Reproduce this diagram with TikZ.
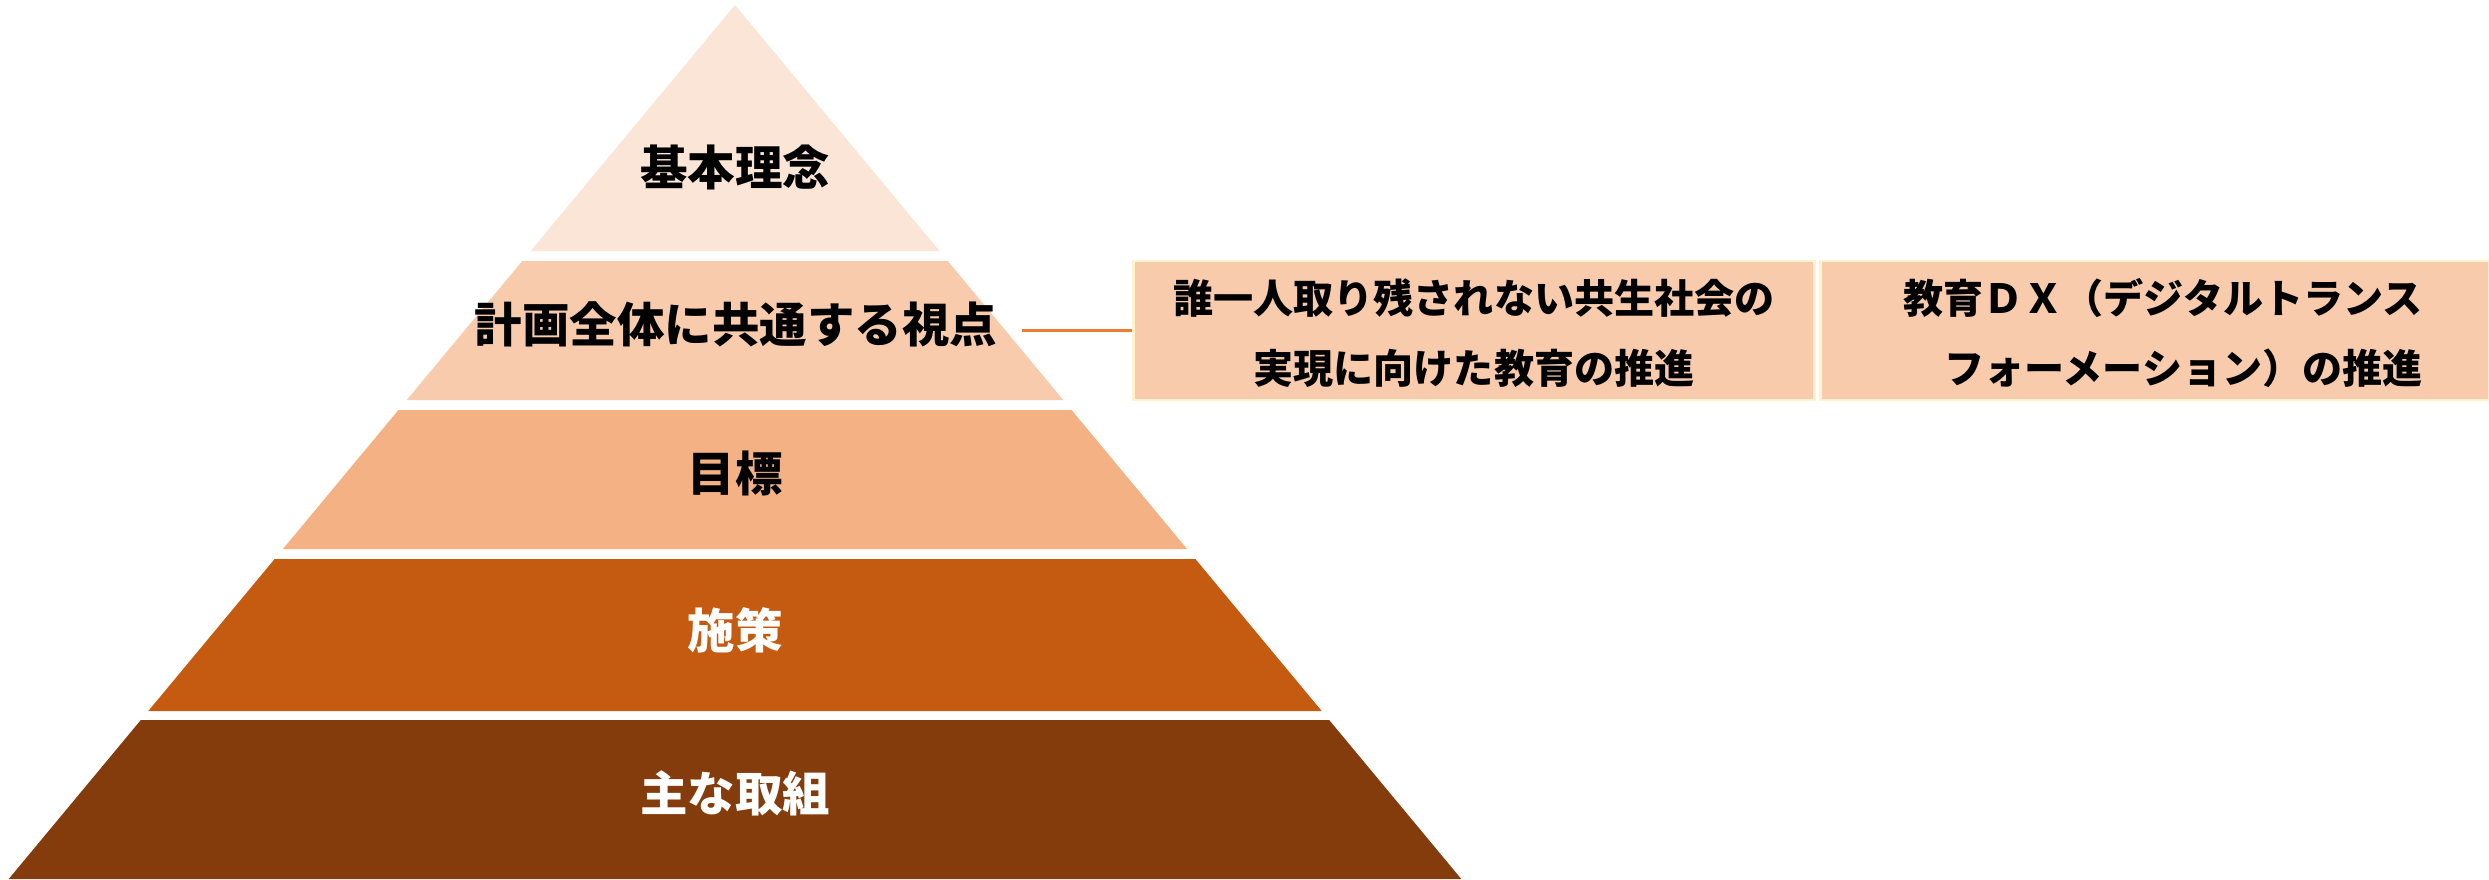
\documentclass[tikz,border=0pt]{standalone}
\usepackage{fontspec}
\newfontfamily\jp{Noto Sans CJK JP}
\definecolor{tier one}{HTML}{FBE5D6}
\definecolor{tier two}{HTML}{F8CBAD}
\definecolor{tier three}{HTML}{F4B183}
\definecolor{tier four}{HTML}{C55A11}
\definecolor{tier five}{HTML}{843C0C}
\definecolor{box edge}{HTML}{FFF2CC}
\definecolor{link line}{HTML}{ED7D31}
\tikzset{tier text/.style={font=\jp\bfseries\fontsize{13.5}{16}\selectfont},
    dark text/.style={tier text, text=black},
    light text/.style={tier text, text=white},
    viewbox/.style={fill=tier two, draw=box edge, line width=0.8pt,
        minimum height=1.39cm, align=center, text height=31.5pt,
        font=\jp\bfseries\fontsize{11.4}{19.9}\selectfont},
    link/.style={draw=link line, line width=0.6pt}}
% one slice of the pyramid, from height #1 down to height #2
\def\tier#1#2{({735-0.831*(#1-5)},#1) -- ({735+0.831*(#1-5)},#1)
    -- ({735+0.831*(#2-5)},#2) -- ({735-0.831*(#2-5)},#2) -- cycle}
\begin{document}
\begin{tikzpicture}[x=0.01cm,y=-0.01cm]
    \useasboundingbox (0,0) rectangle (2489,879);
    \fill[tier one] \tier{5}{251};
    \fill[tier two] \tier{261}{400};
    \fill[tier three] \tier{410}{549};
    \fill[tier four] \tier{559}{711};
    \fill[tier five] \tier{720}{879};
    \node[dark text] (idea) at (735,167) {基本理念};
    \node[dark text, inner sep=0.24cm] (view) at (736,324) {計画全体に共通する視点};
    \node[dark text] (goal) at (735,473) {目標};
    \node[light text] (measure) at (735,630) {施策};
    \node[light text] (action) at (735,793) {主な取組};
    \node[viewbox, minimum width=6.8cm] (inclusive) at (1474,330.5)
        {誰一人取り残されない共生社会の\\実現に向けた教育の推進};
    \node[viewbox, minimum width=6.68cm, align=right] (dx) at (2155,330.5)
        {\hspace*{0.16cm}教育ＤＸ（デジタルトランス\\フォーメーション）の推進};
    \draw[link] (view.east |- inclusive.west) -- (inclusive.west);
\end{tikzpicture}
\end{document}
